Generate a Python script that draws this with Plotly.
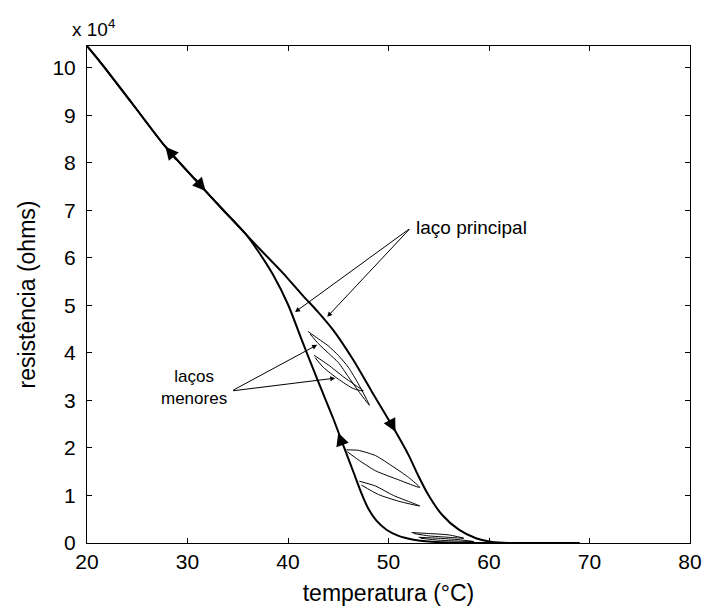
import plotly.graph_objects as go

# ---------------- data (resistance in units of 10^4 ohms) ----------------
heat_T = [20.0, 21.4, 24.5, 27.8, 31.4, 33.5, 35.8, 37.5, 39.5, 41.5, 43.0, 44.5,
          46.5, 48.3, 50.5, 52.0, 53.0, 54.0, 55.3, 57.0, 58.7, 60.3, 62.0, 69.0]
heat_R = [10.46, 10.1, 9.25, 8.34, 7.5, 7.02, 6.5, 6.12, 5.68, 5.2, 4.86, 4.48,
          3.85, 3.2, 2.42, 1.85, 1.4, 1.0, 0.6, 0.28, 0.1, 0.02, 0.0, 0.0]

cool_T = [69.0, 58.0, 56.0, 54.0, 52.5, 51.0, 49.8, 48.8, 48.0, 47.3, 46.5, 45.6,
          44.5, 43.0, 41.5, 40.0, 38.5, 37.0, 35.8, 33.5, 31.4, 27.8, 24.5, 21.4, 20.0]
cool_R = [0.0, 0.0, 0.01, 0.03, 0.07, 0.15, 0.28, 0.47, 0.72, 1.05, 1.5, 2.0,
          2.62, 3.4, 4.2, 5.02, 5.65, 6.15, 6.5, 7.02, 7.5, 8.34, 9.25, 10.1, 10.46]

# minor loops
loopU1_T = [42.0, 43.0, 44.0, 45.0, 46.0, 47.0, 48.1, 47.0, 46.0, 45.0, 44.0, 43.0, 42.2]
loopU1_R = [4.45, 4.3, 4.15, 3.95, 3.7, 3.35, 2.9, 3.2, 3.5, 3.8, 4.0, 4.2, 4.4]

loopU2_T = [42.6, 44.0, 45.5, 46.5, 47.5, 46.5, 45.0, 43.5, 42.7]
loopU2_R = [3.95, 3.75, 3.5, 3.35, 3.2, 3.25, 3.45, 3.7, 3.9]

loopM1_T = [45.8, 47.0, 48.7, 50.5, 52.0, 53.1, 51.0, 48.7, 47.0, 45.9]
loopM1_R = [1.96, 1.95, 1.84, 1.6, 1.38, 1.17, 1.33, 1.52, 1.75, 1.92]

loopM2_T = [47.1, 48.7, 50.5, 53.1, 51.0, 49.0, 47.3]
loopM2_R = [1.3, 1.2, 1.0, 0.78, 0.88, 1.02, 1.22]

loopB1_T = [52.3, 54.0, 56.0, 57.5, 56.0, 54.0, 52.5]
loopB1_R = [0.22, 0.2, 0.17, 0.1, 0.12, 0.15, 0.2]

loopB2_T = [53.0, 55.0, 57.0, 58.5, 57.0, 55.0, 53.2]
loopB2_R = [0.12, 0.1, 0.07, 0.03, 0.04, 0.06, 0.1]

# direction arrows on the main loop: (tip T, tip R, tail T, tail R)
dir_arrows = [
    (27.8, 8.34, 29.0, 8.04),
    (31.8, 7.41, 30.6, 7.70),
    (50.7, 2.34, 50.0, 2.62),
    (45.0, 2.32, 45.4, 2.08),
]

x_ticks = [20, 30, 40, 50, 60, 70, 80]
y_ticks = [0, 1, 2, 3, 4, 5, 6, 7, 8, 9, 10]

FONT = "Liberation Sans, Arial, Helvetica, sans-serif"

fig = go.Figure()

for T, R in [(heat_T, heat_R), (cool_T, cool_R)]:
    fig.add_trace(go.Scatter(x=T, y=R, mode="lines",
                             line=dict(color="black", width=2, shape="spline", smoothing=0.7),
                             showlegend=False, hoverinfo="skip"))

for T, R in [(loopU1_T, loopU1_R), (loopU2_T, loopU2_R), (loopM1_T, loopM1_R),
             (loopM2_T, loopM2_R), (loopB1_T, loopB1_R), (loopB2_T, loopB2_R)]:
    fig.add_trace(go.Scatter(x=T, y=R, mode="lines",
                             line=dict(color="black", width=1, shape="spline", smoothing=0.6),
                             showlegend=False, hoverinfo="skip"))

annotations = []
for tx, ty, sx, sy in dir_arrows:
    annotations.append(dict(x=tx, y=ty, ax=sx, ay=sy, xref="x", yref="y",
                            axref="x", ayref="y", text="", showarrow=True,
                            arrowhead=2, arrowsize=1.3, arrowwidth=2, arrowcolor="black"))

# "laço principal"
annotations.append(dict(x=52.5, y=6.63, xref="x", yref="y", text="laço principal",
                        showarrow=False, xanchor="left", yanchor="middle",
                        font=dict(family=FONT, size=19, color="black")))
for tx, ty in [(40.7, 4.86), (43.9, 4.76)]:
    annotations.append(dict(x=tx, y=ty, ax=52.2, ay=6.63, xref="x", yref="y",
                            axref="x", ayref="y", text="", showarrow=True,
                            arrowhead=2, arrowsize=1, arrowwidth=1, arrowcolor="black"))

# "laços menores"
annotations.append(dict(x=30.6, y=3.28, xref="x", yref="y", text="laços<br>menores",
                        showarrow=False, xanchor="center", yanchor="middle",
                        font=dict(family=FONT, size=17, color="black")))
for tx, ty in [(42.9, 4.17), (44.7, 3.47)]:
    annotations.append(dict(x=tx, y=ty, ax=34.4, ay=3.2, xref="x", yref="y",
                            axref="x", ayref="y", text="", showarrow=True,
                            arrowhead=2, arrowsize=1, arrowwidth=1, arrowcolor="black"))

# exponent label
annotations.append(dict(x=-0.028, y=1.036, xref="paper", yref="paper",
                        text="x 10<sup>4</sup>", showarrow=False,
                        xanchor="left", yanchor="middle",
                        font=dict(family=FONT, size=19, color="black")))

axis_common = dict(showline=True, linecolor="black", linewidth=1, mirror="ticks",
                   ticks="inside", ticklen=5, tickcolor="black", showgrid=False,
                   zeroline=False, tickfont=dict(family=FONT, size=21, color="black"))

fig.update_layout(
    width=714, height=613,
    margin=dict(l=87, r=17, t=46, b=70),
    paper_bgcolor="white", plot_bgcolor="white",
    xaxis=dict(range=[20, 80], tickvals=x_ticks,
               title=dict(text="temperatura (°C)", standoff=12,
                          font=dict(family=FONT, size=23, color="black")),
               **axis_common),
    yaxis=dict(range=[0, 10.46], tickvals=y_ticks, ticklabelstandoff=6,
               title=dict(text="resistência (ohms)", standoff=10,
                          font=dict(family=FONT, size=23, color="black")),
               **axis_common),
    annotations=annotations,
)

fig.write_html("out.html")
